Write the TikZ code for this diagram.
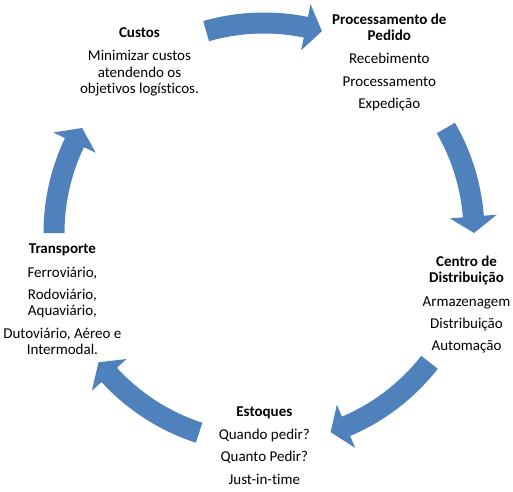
\documentclass[tikz,border=0pt]{standalone}
\usepackage{fontspec}
\setmainfont{Carlito}[Ligatures={NoCommon}]
\definecolor{arrowblue}{RGB}{79,129,189}
\newcommand\cycarrow[2]{%
  \pgfmathsetmacro\hb{#2+4.5}%
  \fill[arrowfill] (#1:220.5pt) arc[start angle=#1, end angle=\hb, radius=220.5pt]
    -- (\hb:233.5pt) -- (#2:210pt) -- (\hb:186.5pt) -- (\hb:199.5pt)
    arc[start angle=\hb, end angle=#1, radius=199.5pt] -- cycle;}
\tikzset{
  blk/.style={align=center, font=\fontsize{15}{16.3}\selectfont, inner sep=0pt, anchor=base, text=black},
  arrowfill/.style={fill=arrowblue}
}
\begin{document}
\begin{tikzpicture}[x=1pt,y=1pt]
\useasboundingbox[fill=white] (0,0) rectangle (513,-491);
\begin{scope}[shift={(264,-233)}]
  \cycarrow{106}{74}
  \cycarrow{30}{0}
  \cycarrow{-38}{-71.5}
  \cycarrow{-108}{-142}
  \cycarrow{180}{150}
\end{scope}
\node[blk] (custos) at (139.5,-93.3) {\textbf{Custos}\\[7pt]Minimizar custos\\atendendo os\\objetivos logísticos.};
\node[blk] (pedido) at (389.3,-108.3) {\textbf{Processamento de}\\\textbf{Pedido}\\[7pt]Recebimento\\[6pt]Processamento\\[6pt]Expedição};
\node[blk] (centro) at (466.5,-350.7) {\textbf{Centro de}\\\textbf{Distribuição}\\[7pt]Armazenagem\\[6pt]Distribuição\\[6pt]Automação};
\node[blk] (estoques) at (264.3,-484) {\textbf{Estoques}\\[7pt]Quando pedir?\\[6pt]Quanto Pedir?\\[6pt]Just-in-time};
\node[blk] (transporte) at (62.4,-354.3) {\textbf{Transporte}\\[7pt]Ferroviário,\\[6pt]Rodoviário,\\Aquaviário,\\[6pt]Dutoviário, Aéreo e\\Intermodal.};
\end{tikzpicture}
\end{document}
